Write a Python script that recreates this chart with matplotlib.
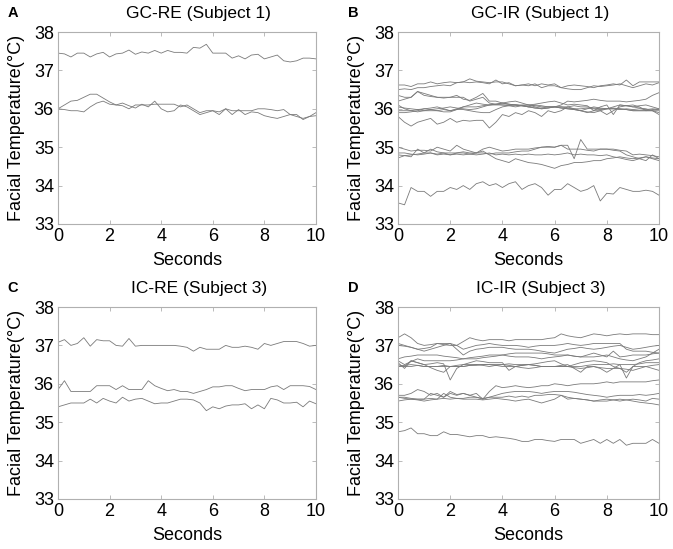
import numpy as np
import matplotlib
matplotlib.use("Agg")
import matplotlib.pyplot as plt

plt.rcParams['font.family'] = ['Liberation Sans', 'DejaVu Sans']

# facial temperature traces, one value every 0.25 s over 10 s
gc_re = [
    [37.45, 37.43, 37.35, 37.45, 37.45, 37.35, 37.43, 37.47, 37.35, 37.43, 37.45, 37.53, 37.42, 37.48, 37.45, 37.52, 37.45, 37.52, 37.47, 37.47, 37.45, 37.60, 37.58, 37.68, 37.45, 37.45, 37.45, 37.32, 37.38, 37.30, 37.40, 37.42, 37.30, 37.35, 37.40, 37.25, 37.22, 37.25, 37.32, 37.32, 37.30],
    [36.00, 36.10, 36.20, 36.22, 36.30, 36.38, 36.38, 36.28, 36.18, 36.10, 36.08, 36.00, 36.10, 36.10, 36.10, 36.12, 36.12, 36.12, 36.12, 36.05, 36.10, 36.00, 35.90, 35.95, 35.95, 35.92, 36.00, 35.95, 35.95, 35.95, 35.95, 36.00, 36.00, 35.98, 35.95, 35.98, 35.85, 35.85, 35.72, 35.80, 35.82],
    [36.00, 35.98, 35.95, 35.95, 35.92, 36.05, 36.15, 36.20, 36.12, 36.10, 36.15, 36.08, 36.02, 36.12, 36.05, 36.20, 36.00, 35.92, 35.95, 36.10, 36.05, 35.95, 35.85, 35.90, 35.95, 35.85, 36.00, 35.85, 35.98, 35.85, 35.92, 35.90, 35.82, 35.78, 35.75, 35.80, 35.85, 35.80, 35.75, 35.80, 35.90],
]

gc_ir = [
    [36.62, 36.62, 36.58, 36.65, 36.65, 36.70, 36.65, 36.68, 36.70, 36.68, 36.70, 36.68, 36.70, 36.68, 36.65, 36.75, 36.65, 36.68, 36.60, 36.62, 36.65, 36.60, 36.65, 36.62, 36.65, 36.55, 36.60, 36.62, 36.60, 36.58, 36.55, 36.60, 36.62, 36.65, 36.62, 36.75, 36.60, 36.70, 36.70, 36.70, 36.70],
    [36.50, 36.52, 36.50, 36.55, 36.55, 36.58, 36.60, 36.62, 36.60, 36.68, 36.70, 36.78, 36.72, 36.70, 36.68, 36.70, 36.70, 36.65, 36.60, 36.62, 36.60, 36.65, 36.55, 36.60, 36.60, 36.55, 36.52, 36.50, 36.50, 36.55, 36.60, 36.58, 36.60, 36.62, 36.65, 36.60, 36.55, 36.60, 36.65, 36.62, 36.68],
    [36.35, 36.30, 36.30, 36.45, 36.35, 36.32, 36.30, 36.30, 36.30, 36.35, 36.25, 36.22, 36.30, 36.40, 36.20, 36.20, 36.15, 36.12, 36.10, 36.10, 36.10, 36.08, 36.05, 36.05, 36.05, 36.05, 36.02, 36.00, 36.00, 36.02, 36.00, 35.98, 36.00, 36.00, 35.98, 36.00, 35.98, 36.00, 35.98, 36.00, 35.98],
    [36.20, 36.25, 36.30, 36.45, 36.40, 36.35, 36.30, 36.28, 36.30, 36.30, 36.30, 36.20, 36.25, 36.30, 36.15, 36.12, 36.10, 36.10, 36.10, 36.08, 36.05, 36.10, 36.08, 36.05, 36.05, 36.10, 36.20, 36.18, 36.20, 36.22, 36.25, 36.22, 36.20, 36.20, 36.20, 36.18, 36.20, 36.22, 36.25, 36.35, 36.42],
    [36.10, 36.00, 35.95, 35.98, 36.00, 36.02, 36.05, 36.00, 35.95, 36.00, 36.05, 36.10, 36.15, 36.12, 36.10, 36.12, 36.15, 36.18, 36.20, 36.15, 36.10, 36.12, 36.15, 36.18, 36.20, 36.15, 36.10, 36.12, 36.10, 36.08, 35.95, 36.05, 36.10, 35.85, 36.10, 36.08, 36.05, 36.08, 36.10, 36.05, 36.00],
    [36.05, 36.02, 36.00, 35.98, 35.95, 35.98, 36.00, 36.02, 36.05, 36.02, 36.00, 35.98, 36.00, 36.05, 36.10, 36.12, 36.15, 36.12, 36.10, 36.08, 36.05, 36.02, 36.00, 36.02, 36.05, 36.05, 36.05, 36.08, 36.05, 36.05, 36.02, 36.00, 36.00, 36.02, 36.00, 35.98, 35.95, 35.95, 35.95, 35.98, 36.00],
    [35.95, 35.95, 35.95, 35.92, 35.95, 35.95, 35.95, 35.98, 35.95, 35.98, 35.98, 35.95, 35.92, 35.90, 35.90, 35.98, 36.05, 36.08, 36.10, 36.08, 36.05, 36.02, 36.02, 36.05, 36.05, 36.02, 36.00, 35.98, 35.95, 36.00, 36.05, 36.02, 36.00, 36.05, 36.10, 36.08, 36.05, 36.02, 36.00, 35.95, 35.90],
    [35.80, 35.65, 35.55, 35.65, 35.70, 35.75, 35.60, 35.65, 35.75, 35.65, 35.70, 35.68, 35.70, 35.70, 35.50, 35.65, 35.85, 35.80, 35.90, 35.85, 35.95, 35.90, 35.80, 35.95, 35.90, 35.95, 36.05, 36.00, 35.95, 35.90, 35.95, 35.95, 35.85, 35.95, 36.05, 36.08, 36.10, 36.05, 35.95, 35.95, 35.85],
    [35.90, 35.90, 35.92, 35.95, 36.00, 35.98, 35.95, 35.92, 35.92, 35.98, 36.05, 36.05, 36.05, 36.08, 36.10, 36.10, 36.10, 36.08, 36.05, 36.08, 36.10, 36.05, 36.00, 36.02, 36.05, 36.02, 36.00, 35.98, 35.95, 35.92, 35.90, 35.95, 36.00, 36.00, 36.00, 35.98, 35.95, 35.95, 35.95, 35.95, 35.95],
    [35.00, 34.95, 34.90, 34.92, 34.92, 34.90, 35.00, 34.95, 34.90, 35.05, 34.95, 34.90, 34.85, 34.95, 35.00, 34.95, 34.90, 34.92, 34.95, 34.95, 34.95, 34.98, 35.00, 35.02, 35.00, 35.05, 34.95, 34.95, 34.95, 34.92, 34.90, 34.95, 34.95, 34.95, 34.92, 34.90, 34.80, 34.82, 34.80, 34.78, 34.75],
    [34.85, 34.85, 34.82, 34.80, 34.82, 34.85, 34.80, 34.82, 34.80, 34.85, 34.85, 34.82, 34.85, 34.85, 34.82, 34.85, 34.85, 34.85, 34.88, 34.90, 34.90, 34.95, 35.00, 35.00, 35.00, 35.05, 35.05, 34.70, 35.20, 34.95, 34.95, 34.95, 34.95, 34.92, 34.90, 34.80, 34.75, 34.70, 34.65, 34.80, 34.70],
    [34.72, 34.78, 34.80, 34.82, 34.85, 34.95, 34.88, 34.85, 34.85, 34.85, 34.88, 34.85, 34.85, 34.90, 34.80, 34.70, 34.65, 34.60, 34.70, 34.65, 34.60, 34.58, 34.55, 34.50, 34.45, 34.52, 34.55, 34.60, 34.60, 34.62, 34.65, 34.65, 34.70, 34.72, 34.75, 34.72, 34.70, 34.72, 34.75, 34.72, 34.70],
    [34.80, 34.78, 34.75, 34.95, 34.85, 34.85, 34.82, 34.85, 34.80, 34.82, 34.80, 34.82, 34.80, 34.82, 34.85, 34.80, 34.82, 34.80, 34.82, 34.80, 34.82, 34.80, 34.80, 34.82, 34.80, 34.82, 34.85, 34.80, 34.82, 34.80, 34.80, 34.78, 34.80, 34.75, 34.72, 34.68, 34.65, 34.70, 34.75, 34.70, 34.65],
    [33.55, 33.50, 33.95, 33.85, 33.85, 33.72, 33.85, 33.85, 33.95, 33.90, 34.00, 33.90, 34.05, 34.10, 34.00, 34.05, 33.95, 34.05, 34.10, 33.90, 34.00, 34.05, 33.95, 33.75, 33.90, 33.90, 34.05, 33.95, 33.85, 33.90, 34.00, 33.60, 33.80, 33.78, 33.95, 33.90, 33.85, 33.85, 33.88, 33.85, 33.75],
]

ic_re = [
    [37.08, 37.15, 37.00, 37.05, 37.20, 36.98, 37.15, 37.12, 37.12, 37.00, 36.98, 37.18, 36.98, 37.00, 37.00, 37.00, 37.00, 37.00, 37.00, 36.98, 36.95, 36.85, 36.95, 36.90, 36.90, 36.90, 37.00, 36.95, 36.95, 36.98, 36.95, 36.90, 37.05, 37.00, 37.05, 37.10, 37.10, 37.10, 37.05, 36.98, 37.00],
    [35.85, 36.08, 35.80, 35.80, 35.80, 35.80, 35.95, 35.95, 35.95, 35.85, 35.95, 35.85, 35.85, 35.85, 36.08, 35.95, 35.88, 35.82, 35.85, 35.80, 35.80, 35.75, 35.80, 35.85, 35.92, 35.92, 35.95, 35.95, 35.88, 35.82, 35.85, 35.85, 35.85, 35.92, 35.95, 35.85, 35.95, 35.95, 35.95, 35.93, 35.85],
    [35.40, 35.45, 35.50, 35.50, 35.50, 35.60, 35.50, 35.62, 35.55, 35.50, 35.65, 35.55, 35.60, 35.62, 35.55, 35.48, 35.50, 35.50, 35.55, 35.60, 35.60, 35.58, 35.50, 35.30, 35.40, 35.35, 35.42, 35.45, 35.45, 35.48, 35.35, 35.45, 35.35, 35.62, 35.58, 35.50, 35.50, 35.52, 35.40, 35.55, 35.48],
]

ic_ir = [
    [37.20, 37.30, 37.20, 37.05, 37.00, 37.02, 37.05, 37.05, 37.05, 37.00, 37.10, 37.20, 37.15, 37.12, 37.15, 37.15, 37.15, 37.12, 37.15, 37.15, 37.15, 37.15, 37.15, 37.18, 37.20, 37.30, 37.25, 37.22, 37.20, 37.25, 37.30, 37.28, 37.25, 37.28, 37.30, 37.28, 37.30, 37.30, 37.30, 37.28, 37.28],
    [37.05, 37.00, 36.95, 36.90, 36.92, 36.95, 37.05, 37.02, 37.00, 37.00, 36.90, 36.95, 37.00, 37.02, 37.05, 37.02, 37.00, 37.00, 37.00, 36.98, 36.95, 36.98, 37.00, 37.00, 37.00, 37.02, 37.05, 37.02, 37.00, 37.02, 37.05, 37.05, 37.05, 37.05, 37.05, 36.90, 36.85, 36.85, 36.85, 36.82, 36.80],
    [37.00, 36.98, 36.95, 36.90, 36.85, 36.90, 36.95, 37.00, 37.05, 36.90, 36.75, 36.85, 36.90, 36.92, 36.95, 36.95, 36.95, 36.92, 36.90, 36.90, 36.90, 36.88, 36.85, 36.82, 36.80, 36.85, 36.90, 36.92, 36.95, 36.92, 36.90, 36.92, 36.95, 36.98, 37.00, 36.95, 36.90, 36.92, 36.95, 36.98, 37.00],
    [36.65, 36.70, 36.72, 36.75, 36.75, 36.75, 36.75, 36.72, 36.70, 36.68, 36.65, 36.68, 36.70, 36.72, 36.75, 36.75, 36.75, 36.78, 36.80, 36.80, 36.80, 36.80, 36.80, 36.78, 36.75, 36.75, 36.75, 36.72, 36.70, 36.75, 36.80, 36.75, 36.70, 36.85, 36.70, 36.72, 36.75, 36.75, 36.75, 36.78, 36.80],
    [36.60, 36.50, 36.58, 36.65, 36.60, 36.60, 36.60, 36.60, 36.60, 36.62, 36.65, 36.65, 36.65, 36.68, 36.70, 36.72, 36.75, 36.72, 36.70, 36.70, 36.70, 36.68, 36.65, 36.68, 36.70, 36.72, 36.75, 36.72, 36.70, 36.70, 36.70, 36.72, 36.75, 36.70, 36.65, 36.62, 36.60, 36.65, 36.70, 36.80, 36.90],
    [36.50, 36.45, 36.60, 36.55, 36.50, 36.52, 36.55, 36.52, 36.10, 36.40, 36.50, 36.50, 36.50, 36.48, 36.45, 36.48, 36.50, 36.48, 36.45, 36.48, 36.50, 36.52, 36.55, 36.58, 36.60, 36.52, 36.45, 36.50, 36.55, 36.58, 36.60, 36.58, 36.55, 36.45, 36.40, 36.30, 36.45, 36.55, 36.60, 36.62, 36.65],
    [36.45, 36.48, 36.50, 36.48, 36.45, 36.45, 36.45, 36.45, 36.45, 36.45, 36.45, 36.48, 36.50, 36.50, 36.50, 36.48, 36.45, 36.45, 36.45, 36.42, 36.40, 36.42, 36.45, 36.45, 36.45, 36.45, 36.45, 36.42, 36.40, 36.42, 36.45, 36.42, 36.40, 36.40, 36.40, 36.38, 36.35, 36.40, 36.45, 36.48, 36.50],
    [36.55, 36.40, 36.60, 36.55, 36.50, 36.42, 36.35, 36.30, 36.45, 36.48, 36.50, 36.55, 36.60, 36.58, 36.55, 36.55, 36.55, 36.35, 36.45, 36.48, 36.50, 36.48, 36.45, 36.45, 36.45, 36.48, 36.50, 36.40, 36.30, 36.45, 36.45, 36.40, 36.30, 36.40, 36.50, 36.15, 36.45, 36.45, 36.45, 36.40, 36.35],
    [36.45, 36.45, 36.45, 36.48, 36.45, 36.45, 36.45, 36.48, 36.45, 36.45, 36.45, 36.48, 36.48, 36.50, 36.50, 36.50, 36.50, 36.52, 36.50, 36.50, 36.50, 36.48, 36.45, 36.45, 36.45, 36.45, 36.45, 36.45, 36.45, 36.48, 36.50, 36.50, 36.50, 36.52, 36.50, 36.50, 36.50, 36.52, 36.55, 36.55, 36.55],
    [35.70, 35.70, 35.75, 35.85, 35.80, 35.70, 35.75, 35.65, 35.75, 35.70, 35.75, 35.70, 35.75, 35.60, 35.80, 35.95, 35.90, 35.92, 35.95, 35.92, 35.90, 35.92, 35.95, 35.95, 36.00, 35.98, 35.95, 35.98, 36.00, 36.00, 36.00, 36.02, 36.05, 36.02, 36.05, 36.05, 36.05, 36.05, 36.05, 36.08, 36.10],
    [35.65, 35.65, 35.62, 35.60, 35.60, 35.75, 35.70, 35.65, 35.80, 35.72, 35.75, 35.70, 35.65, 35.60, 35.65, 35.70, 35.75, 35.78, 35.80, 35.80, 35.80, 35.78, 35.75, 35.78, 35.80, 35.80, 35.80, 35.78, 35.75, 35.72, 35.70, 35.68, 35.65, 35.68, 35.70, 35.70, 35.70, 35.72, 35.70, 35.72, 35.75],
    [35.55, 35.58, 35.60, 35.60, 35.60, 35.62, 35.60, 35.75, 35.65, 35.62, 35.60, 35.60, 35.60, 35.58, 35.60, 35.62, 35.60, 35.58, 35.55, 35.58, 35.60, 35.55, 35.50, 35.55, 35.60, 35.70, 35.60, 35.62, 35.60, 35.58, 35.55, 35.55, 35.55, 35.58, 35.60, 35.58, 35.55, 35.52, 35.50, 35.48, 35.45],
    [35.65, 35.62, 35.60, 35.58, 35.55, 35.58, 35.60, 35.62, 35.60, 35.62, 35.62, 35.65, 35.65, 35.62, 35.65, 35.65, 35.65, 35.68, 35.65, 35.68, 35.65, 35.70, 35.70, 35.72, 35.72, 35.70, 35.65, 35.62, 35.60, 35.58, 35.55, 35.58, 35.60, 35.58, 35.55, 35.58, 35.60, 35.58, 35.55, 35.62, 35.60],
    [34.75, 34.78, 34.85, 34.70, 34.70, 34.65, 34.65, 34.75, 34.68, 34.68, 34.65, 34.62, 34.65, 34.65, 34.60, 34.62, 34.60, 34.58, 34.55, 34.50, 34.50, 34.55, 34.55, 34.52, 34.50, 34.55, 34.55, 34.55, 34.45, 34.50, 34.55, 34.45, 34.55, 34.45, 34.55, 34.40, 34.45, 34.45, 34.45, 34.55, 34.45],
]

panels = [
    ("A", "GC-RE (Subject 1)", gc_re),
    ("B", "GC-IR (Subject 1)", gc_ir),
    ("C", "IC-RE (Subject 3)", ic_re),
    ("D", "IC-IR (Subject 3)", ic_ir),
]

# axes boxes in figure fractions [left, bottom, width, height]
boxes = [
    [0.0862, 0.592, 0.3833, 0.3497],
    [0.5914, 0.592, 0.3878, 0.3497],
    [0.0862, 0.0911, 0.3833, 0.3497],
    [0.5914, 0.0911, 0.3878, 0.3497],
]

fig = plt.figure(figsize=(6.73, 5.49), dpi=100)

for (letter, title, lines), box in zip(panels, boxes):
    ax = fig.add_axes(box)
    for vals in lines:
        t = np.linspace(0, 10, len(vals))
        ax.plot(t, vals, color="#7a7a7a", lw=0.6)
    ax.set_xlim(0, 10)
    ax.set_ylim(33, 38)
    ax.set_xticks([0, 2, 4, 6, 8, 10])
    ax.set_yticks([33, 34, 35, 36, 37, 38])
    for s in ax.spines.values():
        s.set_color("#b0b0b0")
        s.set_linewidth(0.8)
    ax.tick_params(direction="in", length=3, width=0.6, color="#b0b0b0",
                   labelsize=13, top=True, right=True, pad=3)
    ax.set_xlabel("Seconds", fontsize=13, labelpad=5)
    ax.set_ylabel("Facial Temperature(\u00b0C)", fontsize=13, labelpad=6)
    ax.set_title(title, fontsize=12.5, pad=10, x=0.545)
    # panel letter in the top left corner
    fig.text(box[0] - 0.075, box[1] + box[3] + 0.035, letter,
             fontsize=10.5, fontweight="bold", va="center", ha="left")

fig.savefig("out.png", dpi=100)
